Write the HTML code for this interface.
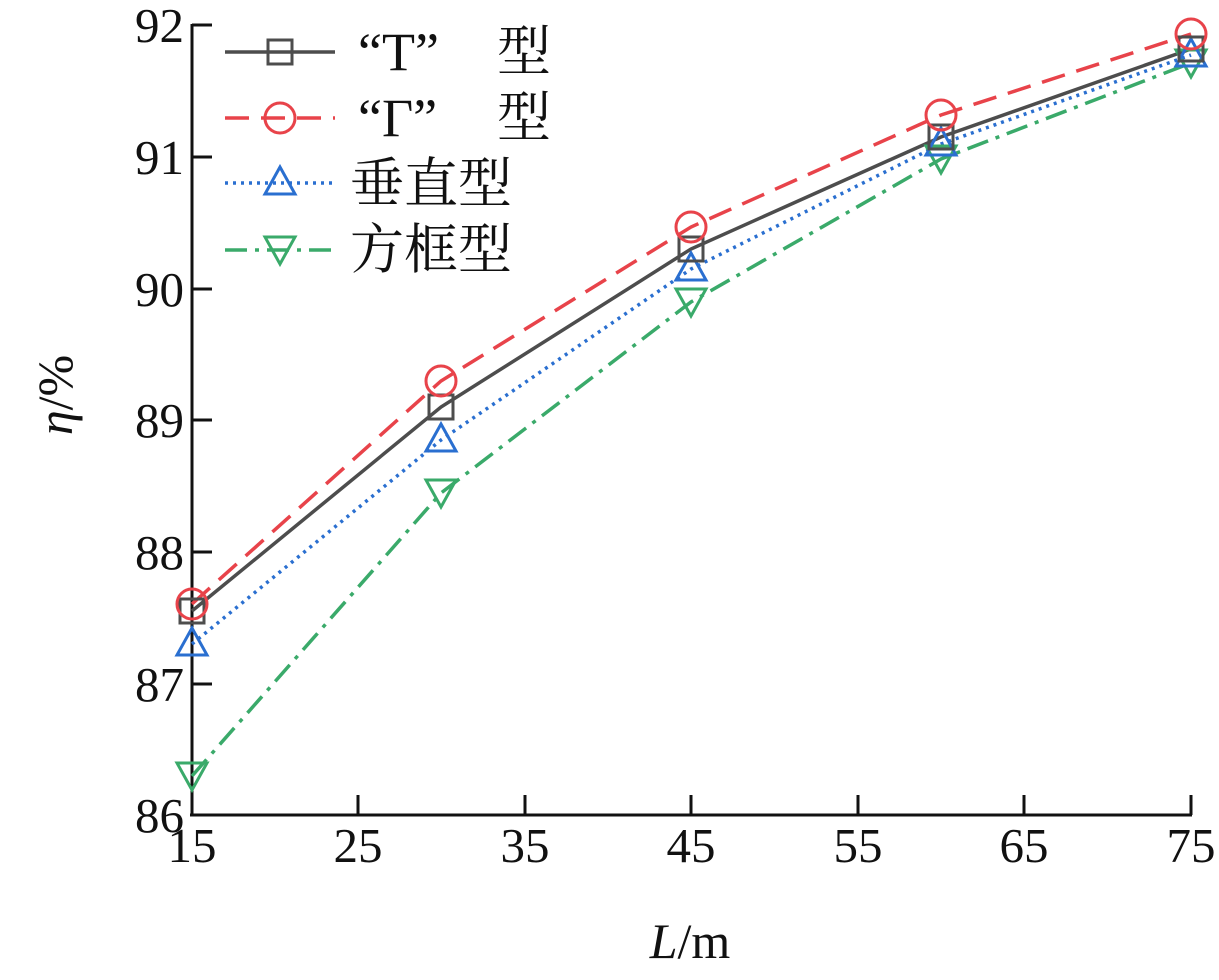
<!DOCTYPE html>
<html><head><meta charset="utf-8"><style>
html,body{margin:0;padding:0;background:#fff}
svg text{font-family:"Liberation Serif","Noto Serif CJK SC","Noto Sans CJK SC",serif;fill:#111}
</style></head><body>
<svg width="1219" height="975" viewBox="0 0 1219 975" xmlns="http://www.w3.org/2000/svg">
<defs>
<g id="sq"><rect x="-12" y="-12" width="24" height="24" fill="none" stroke="#4d4d4d" stroke-width="3"/></g>
<g id="ci"><circle r="15" fill="none" stroke="#e8434a" stroke-width="3"/></g>
<g id="tu"><polygon points="0,-16 15,11 -15,11" fill="none" stroke="#2a6fd0" stroke-width="3"/></g>
<g id="td"><polygon points="0,14 15,-13 -15,-13" fill="none" stroke="#3aaa6a" stroke-width="3"/></g>
</defs>
<g stroke="#111" stroke-width="3" fill="none">
<line x1="192" y1="24" x2="192" y2="816"/>
<line x1="190" y1="815" x2="1192" y2="815"/>
<line x1="192" y1="25" x2="212" y2="25"/>
<line x1="192" y1="157" x2="212" y2="157"/>
<line x1="192" y1="289" x2="212" y2="289"/>
<line x1="192" y1="420" x2="212" y2="420"/>
<line x1="192" y1="552" x2="212" y2="552"/>
<line x1="192" y1="684" x2="212" y2="684"/>
<line x1="358" y1="815" x2="358" y2="795"/>
<line x1="525" y1="815" x2="525" y2="795"/>
<line x1="691" y1="815" x2="691" y2="795"/>
<line x1="858" y1="815" x2="858" y2="795"/>
<line x1="1024" y1="815" x2="1024" y2="795"/>
<line x1="1191" y1="815" x2="1191" y2="795"/>
</g>
<g font-size="49" text-anchor="end">
<text x="184" y="42">92</text><text x="184" y="174">91</text><text x="184" y="306">90</text>
<text x="184" y="437">89</text><text x="184" y="569">88</text><text x="184" y="701">87</text><text x="184" y="832">86</text>
</g>
<g font-size="49" text-anchor="middle">
<text x="192" y="862">15</text><text x="358" y="862">25</text><text x="525" y="862">35</text>
<text x="691" y="862">45</text><text x="858" y="862">55</text><text x="1024" y="862">65</text><text x="1191" y="862">75</text>
</g>
<text x="690" y="958" font-size="50" text-anchor="middle"><tspan font-style="italic">L</tspan>/m</text>
<text transform="translate(72,395) rotate(-90)" font-size="50" text-anchor="middle"><tspan font-style="italic">η</tspan>/%</text>
<polyline fill="none" stroke="#3aaa6a" stroke-width="3.5" stroke-dasharray="22,8,4,8" points="192,776 441,493 691,302 941,159 1191,63"/>
<polyline fill="none" stroke="#2a6fd0" stroke-width="3.5" stroke-dasharray="3,5" points="192,644 441,440 691,269 941,144 1191,55"/>
<polyline fill="none" stroke="#e8434a" stroke-width="3.5" stroke-dasharray="24,12" points="192,604 441,381 691,227 941,115 1191,34"/>
<polyline fill="none" stroke="#4d4d4d" stroke-width="3.5" points="192,611 441,407 691,249 941,137 1191,49"/>
<use href="#td" x="192" y="776"/><use href="#td" x="441" y="493"/><use href="#td" x="691" y="302"/><use href="#td" x="941" y="159"/><use href="#td" x="1191" y="63"/>
<use href="#tu" x="192" y="644"/><use href="#tu" x="441" y="440"/><use href="#tu" x="691" y="269"/><use href="#tu" x="941" y="144"/><use href="#tu" x="1191" y="55"/>
<use href="#sq" x="192" y="611"/><use href="#sq" x="441" y="407"/><use href="#sq" x="691" y="249"/><use href="#sq" x="941" y="137"/><use href="#sq" x="1191" y="49"/>
<use href="#ci" x="192" y="604"/><use href="#ci" x="441" y="381"/><use href="#ci" x="691" y="227"/><use href="#ci" x="941" y="115"/><use href="#ci" x="1191" y="34"/>
<line x1="225" y1="52" x2="335" y2="52" stroke="#4d4d4d" stroke-width="3.5"/><use href="#sq" x="280" y="52"/>
<line x1="225" y1="118" x2="335" y2="118" stroke="#e8434a" stroke-width="3.5" stroke-dasharray="24,12"/><use href="#ci" x="280" y="118"/>
<line x1="225" y1="183" x2="335" y2="183" stroke="#2a6fd0" stroke-width="3.5" stroke-dasharray="3,5"/><use href="#tu" x="280" y="183"/>
<line x1="225" y1="250" x2="335" y2="250" stroke="#3aaa6a" stroke-width="3.5" stroke-dasharray="22,8,4,8"/><use href="#td" x="280" y="250"/>
<g font-size="54">
<text x="358" y="70">“T”</text><text x="497" y="70">型</text>
<text x="358" y="136">“Γ”</text><text x="497" y="136">型</text>
<text x="350" y="202">垂直型</text>
<text x="350" y="268">方框型</text>
</g>
</svg>
</body></html>
